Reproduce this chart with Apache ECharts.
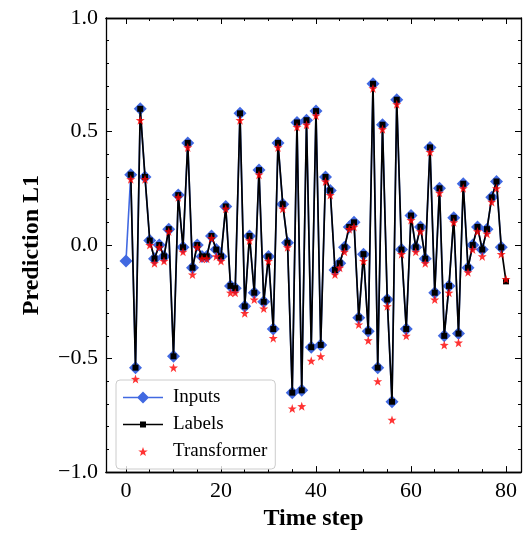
<!DOCTYPE html>
<html>
<head>
<meta charset="utf-8">
<script src="https://cdn.jsdelivr.net/npm/echarts@6/dist/echarts.min.js"></script>
<style>html,body{margin:0;padding:0;background:#fff}#c{width:525px;height:536px}</style>
</head>
<body>
<div id="c"></div>
<script>
// Inputs: time steps 0..79
const inputStart = 0;
const inputs = [-0.07, 0.31, -0.54, 0.60, 0.30, 0.02, -0.06, 0.00, -0.05, 0.07,
  -0.49, 0.22, -0.01, 0.45, -0.10, 0.00, -0.05, -0.05, 0.04, -0.02,
  -0.05, 0.17, -0.18, -0.19, 0.58, -0.27, 0.04, -0.21, 0.33, -0.25,
  -0.05, -0.37, 0.45, 0.18, 0.01, -0.65, 0.54, -0.64, 0.55, -0.45,
  0.59, -0.44, 0.30, 0.24, -0.11, -0.08, -0.01, 0.08, 0.10, -0.32,
  -0.04, -0.38, 0.71, -0.54, 0.53, -0.24, -0.69, 0.64, -0.02, -0.37,
  0.13, -0.01, 0.08, -0.06, 0.43, -0.21, 0.25, -0.40, -0.18, 0.12,
  -0.39, 0.27, -0.10, 0.00, 0.08, -0.02, 0.07, 0.21, 0.28, -0.01];
// Labels: time steps 1..80
const labelStart = 1;
const labels = [0.31, -0.54, 0.60, 0.30, 0.02, -0.06, 0.00, -0.05, 0.07,
  -0.49, 0.22, -0.01, 0.45, -0.10, 0.00, -0.05, -0.05, 0.04, -0.02,
  -0.05, 0.17, -0.18, -0.19, 0.58, -0.27, 0.04, -0.21, 0.33, -0.25,
  -0.05, -0.37, 0.45, 0.18, 0.01, -0.65, 0.54, -0.64, 0.55, -0.45,
  0.59, -0.44, 0.30, 0.24, -0.11, -0.08, -0.01, 0.08, 0.10, -0.32,
  -0.04, -0.38, 0.71, -0.54, 0.53, -0.24, -0.69, 0.64, -0.02, -0.37,
  0.13, -0.01, 0.08, -0.06, 0.43, -0.21, 0.25, -0.40, -0.18, 0.12,
  -0.39, 0.27, -0.10, 0.00, 0.08, -0.02, 0.07, 0.21, 0.28, -0.01, -0.16];
// Transformer predictions: time steps 1..80
const predStart = 1;
const transformer = [0.29, -0.59, 0.55, 0.29, 0.00, -0.08, -0.01, -0.07, 0.06,
  -0.54, 0.21, -0.03, 0.43, -0.13, -0.01, -0.06, -0.06, 0.03, -0.05,
  -0.07, 0.16, -0.21, -0.21, 0.55, -0.30, 0.02, -0.24, 0.31, -0.28,
  -0.07, -0.41, 0.43, 0.16, -0.01, -0.72, 0.52, -0.71, 0.53, -0.51,
  0.57, -0.49, 0.28, 0.22, -0.13, -0.10, -0.03, 0.07, 0.08, -0.35,
  -0.07, -0.42, 0.69, -0.60, 0.51, -0.27, -0.77, 0.62, -0.04, -0.40,
  0.11, -0.03, 0.06, -0.08, 0.41, -0.24, 0.23, -0.44, -0.21, 0.10,
  -0.43, 0.25, -0.12, -0.02, 0.06, -0.05, 0.05, 0.19, 0.25, -0.04, -0.15];
const xMajorTicks = [0, 20, 40, 60, 80];
const xMinorTicks = [0, 5, 10, 15, 20, 25, 30, 35, 40, 45, 50, 55, 60, 65, 70, 75, 80];

const pairs = (arr, start) => arr.map((v, i) => [start + i, v]);
const FONT = '"Liberation Serif", "DejaVu Serif", serif';
const XMIN = -4.21, XMAX = 83.16;
const star = 'path://M0,-10 L2.35,-3.24 L9.51,-3.09 L3.8,1.24 L5.88,8.09 L0,4 L-5.88,8.09 L-3.8,1.24 L-9.51,-3.09 L-2.35,-3.24 Z';
// legend icons (40 x 12 boxes)
const corners = 'M0,0 L0.05,0 L0,0.05 Z M40,12 L39.95,12 L40,11.95 Z ';
const lineBar = 'M0,5.2 L40,5.2 L40,6.8 L0,6.8 Z ';
const iconInputs = 'path://' + corners + lineBar + 'M20,0 L26,6 L20,12 L14,6 Z';
const iconLabels = 'path://' + corners + lineBar + 'M17,3 L23,3 L23,9 L17,9 Z';
const iconStar = 'path://' + corners + 'M20,1.5 L21.18,4.88 L24.76,4.96 L21.9,7.12 L22.94,10.55 L20,8.5 L17.06,10.55 L18.1,7.12 L15.24,4.96 L18.82,4.88 Z';

const axLine = { show: true, onZero: false, lineStyle: { color: '#000', width: 1.3 } };
function xAx(pos, ticks, len, showLabel, name) {
  const a = {
    type: 'value', position: pos, min: XMIN, max: XMAX,
    axisLine: axLine, splitLine: { show: false },
    axisTick: { show: true, inside: true, length: len, customValues: ticks, lineStyle: { color: '#000', width: 1 } },
    axisLabel: showLabel ? { show: true, customValues: ticks, fontFamily: FONT, fontSize: 22, color: '#000', margin: 8 } : { show: false }
  };
  if (name) {
    a.name = name; a.nameLocation = 'middle'; a.nameGap = 32;
    a.nameTextStyle = { fontFamily: FONT, fontSize: 24, fontWeight: 'bold', color: '#000' };
  }
  return a;
}
function yAx(pos, showLabel, name) {
  const a = {
    type: 'value', position: pos, min: -1, max: 1, interval: 0.5,
    axisLine: axLine, splitLine: { show: false },
    axisTick: { show: true, inside: true, length: 6, lineStyle: { color: '#000', width: 1 } },
    minorTick: { show: true, splitNumber: 5, length: 3, lineStyle: { color: '#000', width: 1 } },
    axisLabel: showLabel ? { show: true, fontFamily: FONT, fontSize: 22, color: '#000', margin: 8,
      formatter: v => (v < 0 ? '\u2212' : '') + Math.abs(v).toFixed(1) } : { show: false }
  };
  if (name) {
    a.name = name; a.nameLocation = 'middle'; a.nameGap = 62;
    a.nameTextStyle = { fontFamily: FONT, fontSize: 24, fontWeight: 'bold', color: '#000' };
  }
  return a;
}

const chart = echarts.init(document.getElementById('c'), null, { renderer: 'canvas' });
chart.setOption({
  animation: false,
  backgroundColor: '#fff',
  grid: { left: 106, right: 4, top: 18, bottom: 60, containLabel: false },
  xAxis: [
    xAx('bottom', xMajorTicks, 6, true, 'Time step'),
    xAx('bottom', xMinorTicks, 3, false),
    xAx('top', xMajorTicks, 6, false),
    xAx('top', xMinorTicks, 3, false)
  ],
  yAxis: [
    yAx('left', true, 'Prediction L1'),
    yAx('right', false)
  ],
  legend: {
    orient: 'vertical', left: 116, top: 380,
    backgroundColor: 'rgba(255,255,255,0.8)', borderColor: '#cccccc', borderWidth: 1, borderRadius: 4,
    padding: [8, 8, 8, 7], itemGap: 8, itemWidth: 40, itemHeight: 12, symbolKeepAspect: true,
    textStyle: { fontFamily: FONT, fontSize: 19, color: '#000', padding: [0, 0, 0, 5] },
    data: [
      { name: 'Inputs', icon: iconInputs },
      { name: 'Labels', icon: iconLabels },
      { name: 'Transformer', icon: iconStar }
    ]
  },
  series: [
    { name: 'Inputs', type: 'line', data: pairs(inputs, inputStart), xAxisIndex: 0, yAxisIndex: 0,
      symbol: 'diamond', symbolSize: 13, showAllSymbol: true,
      itemStyle: { color: '#4169e1' }, lineStyle: { color: '#4169e1', width: 1.6 }, z: 2 },
    { name: 'Labels', type: 'line', data: pairs(labels, labelStart), xAxisIndex: 0, yAxisIndex: 0,
      symbol: 'rect', symbolSize: 6, showAllSymbol: true,
      itemStyle: { color: '#000' }, lineStyle: { color: '#000', width: 1.7 }, z: 3 },
    { name: 'Transformer', type: 'scatter', data: pairs(transformer, predStart), xAxisIndex: 0, yAxisIndex: 0,
      symbol: star, symbolSize: 9, itemStyle: { color: '#ff0000' }, z: 4 }
  ]
});
</script>
</body>
</html>
